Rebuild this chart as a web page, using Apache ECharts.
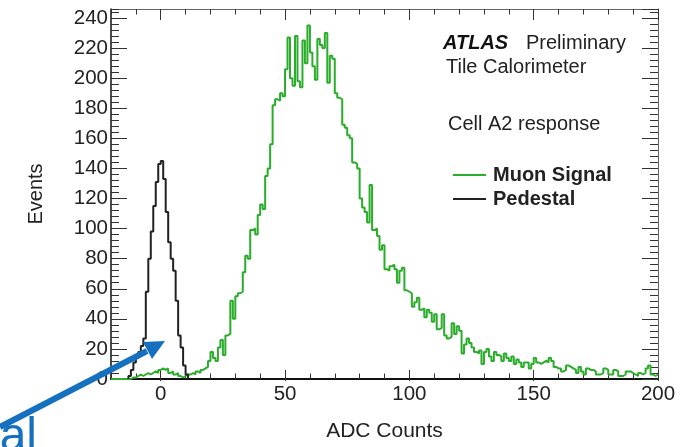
<!DOCTYPE html>
<html><head><meta charset="utf-8">
<script src="https://cdn.jsdelivr.net/npm/echarts@6/dist/echarts.min.js"></script>
<style>html,body{margin:0;padding:0;background:#fff}#c{width:693px;height:447px}</style>
</head><body><div id="c"></div>
<script>
// ---- data ----
const xTickLabels = [0, 50, 100, 150, 200];
const yTickLabels = [0, 20, 40, 60, 80, 100, 120, 140, 160, 180, 200, 220, 240];
const seriesNames = ['Muon Signal', 'Pedestal'];
// Muon signal histogram, 1 ADC-count bins starting at -20
const muonStart = -20;
const muonCounts = [
  0,0,0,0,0,0,0,0,
  1,1,2,3,2,3,4,3,4,5,4,6,
  7,6,7,4,5,3,4,2,1,2,
  3,3,4,3,5,4,6,7,8,12,
  18,14,12,21,26,16,29,30,52,40,
  55,57,58,71,82,80,99,100,96,109,
  116,113,135,140,156,182,186,185,190,188,
  206,227,200,195,228,198,194,225,210,235,
  217,208,199,226,222,220,230,197,215,213,
  190,187,186,169,167,162,160,144,143,140,
  120,114,111,104,129,99,100,95,86,89,
  73,72,75,76,73,64,72,74,59,58,
  57,48,51,54,46,47,41,46,44,38,
  43,33,34,43,29,27,28,37,30,35,
  32,17,23,27,24,21,18,17,19,10,
  18,20,15,12,18,16,15,12,17,14,
  12,15,10,13,11,8,11,11,7,10,
  14,11,10,11,12,11,14,12,8,7,
  7,5,6,9,8,7,6,4,8,5,
  3,7,6,6,5,3,3,4,7,6,
  3,3,6,5,2,2,3,5,5,4,
  3,2,4,3,4,7,9,3,2,3
];
// Pedestal histogram, 1 ADC-count bins starting at -13
const pedestalStart = -13;
const pedestalCounts = [2,6,11,14,18,22,27,58,80,98,115,131,143,145,133,111,91,80,72,52,29,21,9,3];

// ---- build step outlines ----
function steps(start, counts, closeToZero) {
  const pts = [];
  if (closeToZero) pts.push([start, 0]);
  counts.forEach((c, i) => pts.push([start + i, c]));
  pts.push([start + counts.length, counts[counts.length - 1]]);
  if (closeToZero) pts.push([start + counts.length, 0]);
  return pts;
}

const FONT = 'Liberation Sans, Arial, Helvetica, sans-serif';
const chart = echarts.init(document.getElementById('c'), null, {renderer: 'canvas'});
const xMin = -20, xMax = 200, yMin = 0, yMax = 246;
const G = {left: 111, right: 35, top: 9, bottom: 66};
const plotW = 693 - G.left - G.right;
// second grid covering only [0, 200] so that major ticks start at 0
const G2left = G.left + (0 - xMin) / (xMax - xMin) * plotW;

function xAx(grid, pos, min, interval, len, showLine, showLabel, extra) {
  return Object.assign({
    type: 'value', gridIndex: grid, position: pos, min: min, max: xMax, interval: interval,
    axisLine: {show: showLine, onZero: false, lineStyle: {color: pos === 'bottom' ? '#111' : '#666', width: pos === 'bottom' ? 2 : 1}},
    axisTick: {show: true, inside: true, length: len, lineStyle: {color: '#333', width: 1}},
    axisLabel: {show: showLabel},
    splitLine: {show: false}
  }, extra || {});
}
function yAx(grid, pos, interval, len, showLine, showLabel, extra) {
  return Object.assign({
    type: 'value', gridIndex: grid, position: pos, min: yMin, max: yMax, interval: interval,
    axisLine: {show: showLine, onZero: false, lineStyle: {color: pos === 'left' ? '#111' : '#666', width: pos === 'left' ? 1.5 : 1}},
    axisTick: {show: len > 0, inside: true, length: len, lineStyle: {color: '#333', width: 1}},
    axisLabel: {show: showLabel},
    splitLine: {show: false}
  }, extra || {});
}

const option = {
  animation: false,
  backgroundColor: '#fff',
  grid: [
    {left: G.left, right: G.right, top: G.top, bottom: G.bottom, containLabel: false},
    {left: G2left, right: G.right, top: G.top, bottom: G.bottom, containLabel: false}
  ],
  xAxis: [
    xAx(0, 'bottom', xMin, 10, 5.5, true, true, {
      name: 'ADC Counts', nameLocation: 'middle', nameGap: 42,
      nameTextStyle: {fontFamily: FONT, fontSize: 21, color: '#222'},
      axisLabel: {show: true, margin: 5, fontFamily: FONT, fontSize: 20.5, color: '#222',
        formatter: v => xTickLabels.indexOf(v) >= 0 ? String(v) : ''}
    }),
    xAx(0, 'top', xMin, 10, 5.5, true, false),
    xAx(1, 'bottom', 0, 50, 11, false, false),
    xAx(1, 'top', 0, 50, 11, false, false)
  ],
  yAxis: [
    yAx(0, 'left', 20, 16, true, true, {
      name: 'Events', nameLocation: 'middle', nameGap: 65,
      nameTextStyle: {fontFamily: FONT, fontSize: 20, color: '#222'},
      axisLabel: {show: true, margin: 3, fontFamily: FONT, fontSize: 20.5, color: '#222',
        showMaxLabel: false,
        formatter: v => yTickLabels.indexOf(v) >= 0 ? String(v) : ''}
    }),
    yAx(0, 'left', 4, 8, false, false),
    yAx(0, 'right', 20, 16, true, false),
    yAx(0, 'right', 4, 8, false, false),
    yAx(1, 'left', 20, 0, false, false)
  ],
  legend: {
    orient: 'vertical', left: 448, top: 160,
    icon: 'rect', itemWidth: 33, itemHeight: 2, itemGap: 4,
    data: seriesNames,
    textStyle: {fontFamily: FONT, fontSize: 20, fontWeight: 'bold', color: '#222', lineHeight: 20, padding: [0, 0, 0, 2]}
  },
  series: [
    {
      name: seriesNames[0], type: 'line', step: 'end', symbol: 'none',
      xAxisIndex: 0, yAxisIndex: 0,
      data: steps(muonStart, muonCounts, false),
      lineStyle: {color: '#2aad2a', width: 2},
      itemStyle: {color: '#2aad2a'}
    },
    {
      name: seriesNames[1], type: 'line', step: 'end', symbol: 'none',
      xAxisIndex: 0, yAxisIndex: 0,
      data: steps(pedestalStart, pedestalCounts, true),
      lineStyle: {color: '#222', width: 2},
      itemStyle: {color: '#222'}
    }
  ],
  graphic: [
    {type: 'text', left: 443, top: 33, style: {text: 'ATLAS', font: 'italic bold 20px ' + FONT, fill: '#111'}},
    {type: 'text', left: 526, top: 33, style: {text: 'Preliminary', font: '20px ' + FONT, fill: '#222'}},
    {type: 'text', left: 446, top: 57, style: {text: 'Tile Calorimeter', font: '20px ' + FONT, fill: '#222'}},
    {type: 'text', left: 448, top: 114, style: {text: 'Cell A2 response', font: '20px ' + FONT, fill: '#222'}},
    {type: 'line', shape: {x1: 0, y1: 427, x2: 147, y2: 351}, style: {stroke: '#1570c0', lineWidth: 6}, z: 100},
    {type: 'polygon', shape: {points: [[165, 341], [143, 342], [152, 359]]}, style: {fill: '#1570c0'}, z: 100},
    {type: 'text', x: 37, y: 462, style: {text: 'al', font: '48px ' + FONT, fill: '#1570c0', textAlign: 'right', textVerticalAlign: 'bottom'}, z: 100}
  ]
};
chart.setOption(option);
</script>
</body></html>
